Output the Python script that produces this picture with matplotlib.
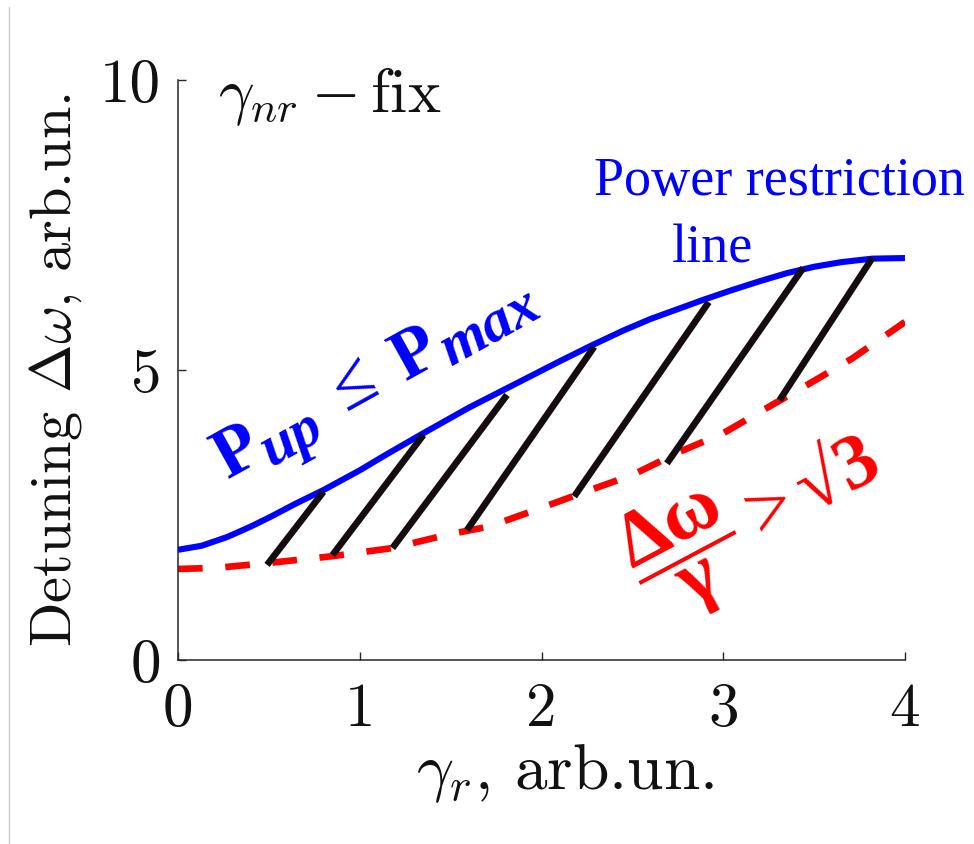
import matplotlib
matplotlib.use("Agg")
import matplotlib.pyplot as plt
import numpy as np
from matplotlib.lines import Line2D

# Power restriction line (upper bound)
gamma_blue = [0.0, 0.13, 0.27, 0.40, 0.51, 0.65, 0.80, 1.00, 1.15, 1.35, 1.60, 1.90, 2.10,
              2.28, 2.45, 2.60, 2.75, 2.89, 3.05, 3.20, 3.35, 3.50, 3.65, 3.82, 4.0]
detune_blue = [1.90, 1.97, 2.12, 2.30, 2.47, 2.70, 2.93, 3.27, 3.55, 3.91, 4.35, 4.83, 5.15,
               5.43, 5.68, 5.88, 6.05, 6.21, 6.38, 6.53, 6.67, 6.78, 6.86, 6.92, 6.93]

# Condition dw/gamma > sqrt(3) (lower bound)
gamma_red = [0.0, 0.12, 0.25, 0.49, 0.85, 1.18, 1.48, 1.71, 1.97, 2.24, 2.50, 2.76, 3.00,
             3.22, 3.46, 3.71, 3.95, 4.0]
detune_red = [1.57, 1.58, 1.60, 1.67, 1.79, 1.93, 2.16, 2.30, 2.59, 2.90, 3.19, 3.59, 3.91,
              4.31, 4.74, 5.20, 5.72, 5.83]

# Hatch strokes between the two bounds: (x0, y0) -> (x1, y1)
hatch_x0 = [0.49, 0.85, 1.18, 1.59, 2.18, 2.69, 3.31]
hatch_y0 = [1.64, 1.81, 1.93, 2.24, 2.82, 3.39, 4.48]
hatch_x1 = [0.80, 1.35, 1.81, 2.29, 2.92, 3.44, 3.82]
hatch_y1 = [2.90, 3.88, 4.57, 5.40, 6.17, 6.76, 6.93]

x_ticks = [0, 1, 2, 3, 4]
y_ticks = [0, 5, 10]

plt.rcParams["font.family"] = "serif"
plt.rcParams["font.serif"] = ["cmr10"]
plt.rcParams["mathtext.fontset"] = "cm"
plt.rcParams["mathtext.rm"] = "Liberation Serif"
plt.rcParams["mathtext.it"] = "Liberation Serif:italic"
plt.rcParams["mathtext.bf"] = "Liberation Serif:bold"
plt.rcParams["mathtext.bfit"] = "Liberation Serif:italic:bold"
plt.rcParams["axes.unicode_minus"] = False
plt.rcParams["axes.formatter.use_mathtext"] = True

fig = plt.figure(figsize=(9.74, 8.44), dpi=100)
ax = fig.add_axes([178 / 974, 1 - 660 / 844, 727 / 974, 580 / 844])

ax.plot(gamma_blue, detune_blue, color="#0000ff", lw=4.4, solid_capstyle="butt",
        solid_joinstyle="round", zorder=3)
ax.plot(gamma_red, detune_red, color="#ff0000", lw=4.8, dashes=(3.7, 3.4),
        dash_capstyle="butt", zorder=2)
for x0, y0, x1, y1 in zip(hatch_x0, hatch_y0, hatch_x1, hatch_y1):
    ax.plot([x0, x1], [y0, y1], color="#140c0e", lw=4.8, solid_capstyle="butt", zorder=4)

ax.set_xlim(0, 4)
ax.set_ylim(0, 10)
ax.set_xticks(x_ticks)
ax.set_yticks(y_ticks)
ax.set_xticklabels([str(t) for t in x_ticks])
ax.set_yticklabels([str(t) for t in y_ticks])
ax.tick_params(direction="in", length=6, width=1.0, colors="#262626", labelsize=44,
               labelcolor="#111111", pad=12)
ax.tick_params(axis="x", pad=16)
for side in ("top", "right"):
    ax.spines[side].set_visible(False)
for side in ("left", "bottom"):
    ax.spines[side].set_color("#262626")
    ax.spines[side].set_linewidth(1.1)

ax.set_xlabel(r"$\gamma_r$, arb.un.", fontsize=47, color="#111111", math_fontfamily="cm")
ax.xaxis.set_label_coords(0.532, -0.142)
ax.set_ylabel(r"Detuning $\Delta\omega$, arb.un.", fontsize=42, labelpad=12,
              color="#111111", math_fontfamily="cm")

ax.text(0.22, 9.45, r"$\gamma_{nr} - \mathrm{fix}$", fontsize=45, color="#111111",
        ha="left", va="baseline", math_fontfamily="cm")

ax.text(3.31, 8.02, "Power restriction", fontsize=39, color="#0000ff",
        family="Liberation Serif", ha="center", va="baseline")
ax.text(2.94, 6.86, "line", fontsize=39, color="#0000ff",
        family="Liberation Serif", ha="center", va="baseline")

# P_up <= P_max, laid out piece by piece along a tilted baseline
tilt = 29
pieces = ["P", "up", "\u2264", "P", "max"]
along_px = [0, 44, 136, 203, 250]
perp_px = [0, -10, 2, 0, -10]
sizes = [51, 43, 54, 51, 43]
weights = ["bold", "bold", "normal", "bold", "bold"]
styles = ["normal", "italic", "normal", "normal", "italic"]
c, s = np.cos(np.radians(tilt)), np.sin(np.radians(tilt))
for txt, a, p, fs, fw, st in zip(pieces, along_px, perp_px, sizes, weights, styles):
    dx = (a * c - p * s) * 0.72
    dy = (a * s + p * c) * 0.72
    ax.annotate(txt, xy=(0.275, 3.12), xycoords="data", xytext=(dx, dy),
                textcoords="offset points", fontsize=fs, fontweight=fw, fontstyle=st,
                family="Liberation Serif", color="#0000ff", rotation=tilt,
                rotation_mode="anchor", ha="left", va="baseline")

ratio_label = r"$\dfrac{\mathbf{\Delta\omega}}{\mathbf{\gamma}} > " + "\u221a" + r"\mathbf{3}$"
ax.text(3.18, 2.45, ratio_label, fontsize=57, color="#ff0000", rotation=28,
        rotation_mode="anchor", ha="center", va="center", math_fontfamily="custom")

# thin frame line at the left edge of the figure
fig.add_artist(Line2D([9 / 974, 9 / 974], [0, 1 - 7 / 844], transform=fig.transFigure,
                      color="#cccccc", lw=1.0))

fig.savefig("out.png", dpi=100)
